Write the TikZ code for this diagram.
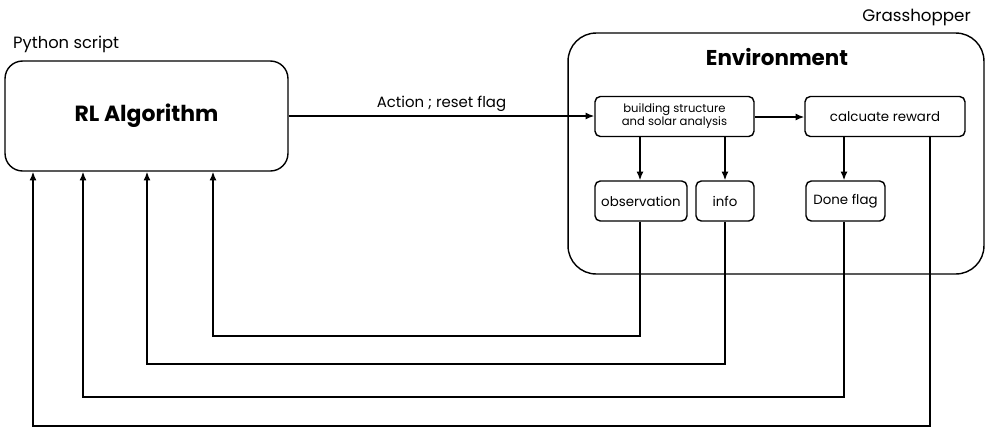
\documentclass[tikz,border=0pt]{standalone}
\usepackage{fontspec}
\setmainfont{Poppins}
\usetikzlibrary{arrows.meta}

\begin{document}
\begin{tikzpicture}[x=0.02cm, y=-0.02cm,
    box/.style={draw, rounded corners=3pt, line width=0.8pt, align=center,
      inner sep=0pt, minimum height=0.8cm, font=\fontsize{7.6}{8.6}\selectfont},
    flow/.style={line width=0.8pt, -{Latex[length=5pt,width=4pt]}}]
    \useasboundingbox (0,0) rectangle (987,430);

    % Outer blocks
    \node[draw, rounded corners=10pt, line width=0.8pt, minimum width=5.66cm,
      minimum height=2.2cm, font=\fontsize{12.5}{15}\selectfont\bfseries] (rl) at (146.5,116) {RL Algorithm};
    \node[draw, rounded corners=16pt, line width=0.8pt, minimum width=8.32cm,
      minimum height=4.82cm] (env) at (776,153.5) {};
    \node[font=\fontsize{12.2}{15}\selectfont\bfseries] (envtitle) at (777,57) {Environment};
    \node[font=\fontsize{9.3}{11}\selectfont, anchor=west] (py) at (7,44) {Python script};
    \node[font=\fontsize{9.5}{11}\selectfont, anchor=east] (gh) at (977,17) {Grasshopper};

    % Inner blocks
    \node[box, minimum width=3.18cm, font=\fontsize{6.6}{7.4}\selectfont] (build) at (674.5,116.5) {building structure\\and solar analysis};
    \node[box, minimum width=3.2cm] (reward) at (885,116.5) {calcuate reward};
    \node[box, minimum width=1.84cm] (obs) at (641,201) {observation};
    \node[box, minimum width=1.16cm] (info) at (725,201) {info};
    \node[box, minimum width=1.58cm] (done) at (845.5,201) {Done flag};

    % Forward arrows
    \draw[flow] (rl.east |- 0,116) -- node[above, font=\fontsize{8.5}{10}\selectfont, inner sep=2pt] {Action ; reset flag} (build.west |- 0,116);
    \draw[flow] (build.east |- 0,117) -- (reward.west |- 0,117);
    \draw[flow] (build.south -| 640,0) -- (obs.north -| 640,0);
    \draw[flow] (build.south -| 725,0) -- (info);
    \draw[flow] (reward.south -| 844,0) -- (done.north -| 844,0);

    % Feedback to the algorithm
    \draw[flow] (obs.south -| 640,0) |- (213,336) -- (rl.south -| 213,0);
    \draw[flow] (info) |- (147,364) -- (rl.south -| 147,0);
    \draw[flow] (done.south -| 844,0) |- (83,397) -- (rl.south -| 83,0);
    \draw[flow] (reward.south -| 930,0) |- (33,426) -- (rl.south -| 33,0);
  \end{tikzpicture}
\end{document}
